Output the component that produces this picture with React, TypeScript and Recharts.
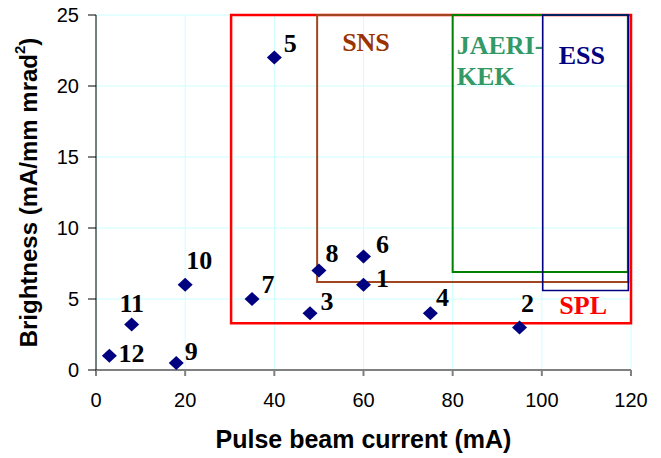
import React from "react";
import {
  ScatterChart,
  Scatter,
  XAxis,
  YAxis,
  CartesianGrid,
  ReferenceArea,
} from "recharts";

// facility number, pulse beam current (mA), brightness (mA/mm mrad^2)
const ids = ["1", "2", "3", "4", "5", "6", "7", "8", "9", "10", "11", "12"];
const current = [60, 95, 48, 75, 40, 60, 35, 50, 18, 20, 8, 3];
const brightness = [6, 3, 4, 4, 22, 8, 5, 7, 0.5, 6, 3.2, 1];

// design regions: name, x from, x to, y from, y to
const regionNames = ["SPL", "SNS", "JAERI-KEK", "ESS"];
const regionX1 = [30.3, 49.6, 80, 100.2];
const regionX2 = [120, 119.4, 119.3, 119.4];
const regionY1 = [3.3, 6.2, 6.9, 5.6];
const regionY2 = [25, 25, 25, 25];

const xTicks = [0, 20, 40, 60, 80, 100, 120];
const yTicks = [0, 5, 10, 15, 20, 25];

const points = ids.map((id, i) => ({ id, x: current[i], y: brightness[i] }));

const labelOffsets: Record<string, [number, number]> = {
  "1": [19, -7],
  "2": [8, -24],
  "3": [17, -12],
  "4": [12, -16],
  "5": [16, -15],
  "6": [19, -12],
  "7": [16, -15],
  "8": [13, -18],
  "9": [15, -12],
  "10": [14, -25],
  "11": [0, -22],
  "12": [22, -3],
};

const regionStyle: Record<string, { stroke: string; text: string; width: number }> = {
  SPL: { stroke: "#FF0000", text: "#FF0000", width: 2.5 },
  SNS: { stroke: "#A0461E", text: "#993300", width: 2 },
  "JAERI-KEK": { stroke: "#008000", text: "#339966", width: 2 },
  ESS: { stroke: "#000080", text: "#000080", width: 1.6 },
};

const SERIF = "'Liberation Serif', 'Times New Roman', serif";
const SANS = "'Liberation Sans', Arial, sans-serif";

const Diamond = (props: any) => {
  const { cx, cy, payload } = props;
  const off = labelOffsets[payload.id] || [14, -14];
  return (
    <g>
      <path
        d={`M${cx},${cy - 7} L${cx + 7.5},${cy} L${cx},${cy + 7} L${cx - 7.5},${cy} Z`}
        fill="#000080"
      />
      <text
        x={cx + off[0]}
        y={cy + off[1] + 9}
        textAnchor="middle"
        fontFamily={SERIF}
        fontWeight="bold"
        fontSize={26}
        fill="#000"
      >
        {payload.id}
      </text>
    </g>
  );
};

const regionLabel = (name: string) => (props: any) => {
  const vb = props.viewBox || {};
  const { x, y, width, height } = vb;
  const fill = regionStyle[name].text;
  const common = {
    fontFamily: SERIF,
    fontWeight: "bold" as const,
    fontSize: 26,
    fill,
  };
  if (name === "SNS")
    return (
      <text x={x + 25} y={y + 36} {...common}>
        SNS
      </text>
    );
  if (name === "JAERI-KEK")
    return (
      <text x={x + 4} y={y + 39} {...common}>
        <tspan x={x + 4}>JAERI-</tspan>
        <tspan x={x + 4} dy={31}>
          KEK
        </tspan>
      </text>
    );
  if (name === "ESS")
    return (
      <text x={x + 16} y={y + 49} {...common}>
        ESS
      </text>
    );
  return (
    <text x={x + width - 24} y={y + height - 9} textAnchor="end" {...common}>
      SPL
    </text>
  );
};

const YTitle = (props: any) => {
  const { viewBox } = props;
  const cy = viewBox.y + viewBox.height / 2;
  const cx = 28;
  return (
    <text
      x={cx}
      y={cy}
      transform={`rotate(-90, ${cx}, ${cy})`}
      textAnchor="middle"
      dominantBaseline="central"
      fontFamily={SANS}
      fontWeight="bold"
      fontSize={24}
      fill="#000"
    >
      Brightness (mA/mm mrad
      <tspan baselineShift="super" fontSize={15}>
        2
      </tspan>
      )
    </text>
  );
};

const XTitle = (props: any) => {
  const { viewBox } = props;
  const cx = viewBox.x + viewBox.width / 2;
  return (
    <text
      x={cx}
      y={448}
      textAnchor="middle"
      fontFamily={SANS}
      fontWeight="bold"
      fontSize={25}
      fill="#000"
    >
      Pulse beam current (mA)
    </text>
  );
};

export default function App() {
  return (
    <div style={{ position: "absolute", left: 0, top: 0, background: "#fff" }}>
      <ScatterChart
        width={661}
        height={458}
        margin={{ top: 15, right: 30, bottom: 58, left: 0 }}
      >
        <CartesianGrid stroke="#CCFFFF" strokeWidth={1} />
        <XAxis
          type="number"
          dataKey="x"
          domain={[0, 120]}
          ticks={xTicks}
          interval={0}
          height={30}
          stroke="#808080"
          strokeWidth={2}
          tickSize={6}
          tickMargin={17}
          tick={{ fill: "#000", fontSize: 20, fontFamily: SANS }}
          label={<XTitle />}
        />
        <YAxis
          type="number"
          dataKey="y"
          domain={[0, 25]}
          ticks={yTicks}
          interval={0}
          width={96}
          stroke="#000"
          tickSize={8}
          tickMargin={9}
          tick={{ fill: "#000", fontSize: 20, fontFamily: SANS }}
          label={<YTitle />}
        />
        {regionNames.map((name, i) => (
          <ReferenceArea
            key={name}
            x1={regionX1[i]}
            x2={regionX2[i]}
            y1={regionY1[i]}
            y2={regionY2[i]}
            fill="none"
            fillOpacity={0}
            stroke={regionStyle[name].stroke}
            strokeWidth={regionStyle[name].width}
            ifOverflow="visible"
            label={regionLabel(name)}
          />
        ))}
        <Scatter
          data={points}
          shape={<Diamond />}
          isAnimationActive={false}
        />
      </ScatterChart>
    </div>
  );
}
